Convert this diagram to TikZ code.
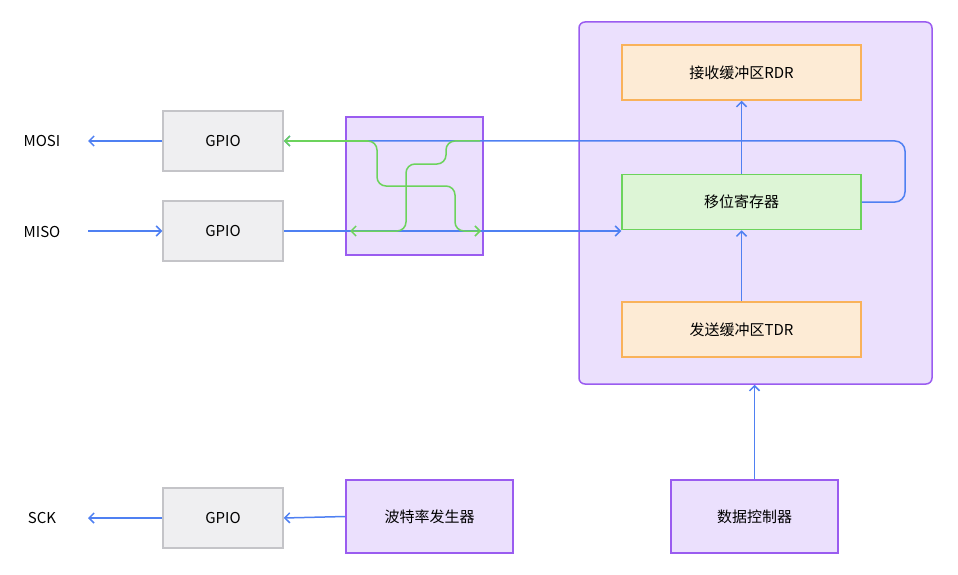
\documentclass[tikz,border=0pt]{standalone}
\usepackage{fontspec}
\setmainfont{Noto Sans CJK SC}
\usetikzlibrary{arrows.meta}
\definecolor{blu}{HTML}{4F80F2}
\definecolor{pur}{HTML}{9A5CF0}
\definecolor{purf}{HTML}{EBE0FD}
\definecolor{orb}{HTML}{F9B25A}
\definecolor{orf}{HTML}{FDEBD5}
\definecolor{grb}{HTML}{6CD35C}
\definecolor{grf}{HTML}{DDF5D6}
\definecolor{gyb}{HTML}{C4C4C8}
\definecolor{gyf}{HTML}{EFEFF1}
\begin{document}
\begin{tikzpicture}[x=1pt,y=-1pt,
  box/.style={draw,line width=1.5pt,minimum width=#1,minimum height=55pt,inner sep=0,font=\fontsize{15}{15}\selectfont},
  gp/.style={box=120pt,draw=gyb,fill=gyf,minimum height=60pt},
  ob/.style={box=239pt,draw=orb,fill=orf},
  arr/.style={draw=blu,line width=1.5pt,-{Straight Barb[length=5pt,width=10pt]}},
  garr/.style={draw=grb,line width=1.5pt,rounded corners=9pt},
  lbl/.style={font=\fontsize{15}{15}\selectfont}]
\useasboundingbox (0,0) rectangle (958,575);
\node[draw=pur,fill=purf,line width=1.5pt,rounded corners=6pt,minimum width=353pt,minimum height=362pt,inner sep=0] (panel) at (755.5,203) {};
\node[ob] (rdr) at (741.5,72.5) {接收缓冲区RDR};
\node[box=239pt,draw=grb,fill=grf] (sr) at (741.5,202) {移位寄存器};
\node[ob] (tdr) at (741.5,329.5) {发送缓冲区TDR};
\node[gp] (g1) at (223,141) {GPIO};
\node[gp] (g2) at (223,231) {GPIO};
\node[gp] (g3) at (223,518) {GPIO};
\node[draw=pur,fill=purf,line width=1.5pt,minimum width=137pt,minimum height=138pt,inner sep=0] (mux) at (414.5,186) {};
\node[box=167pt,draw=pur,fill=purf,minimum height=73pt] (baud) at (429.5,516.5) {波特率发生器};
\node[box=167pt,draw=pur,fill=purf,minimum height=73pt] (dc) at (754.5,516.5) {数据控制器};
\node[lbl] (mosi) at (42,141) {MOSI};
\node[lbl] (miso) at (42,232) {MISO};
\node[lbl] (sck) at (42,518) {SCK};
\coordinate (mosiE) at (88,141);
\coordinate (misoE) at (88,231);
\coordinate (sckE) at (88,518);
\draw[arr] (g1.west) -- (mosiE);
\draw[arr] (misoE) -- (g2.west);
\draw[arr] (g3.west) -- (sckE);
\draw[arr] (baud.west) -- (g3.east);
\draw[arr] (dc.north) -- (panel.south -| dc.north);
\draw[arr] (tdr.north) -- (sr.south);
\draw[arr] (sr.north) -- (rdr.south);
\draw[arr,rounded corners=10pt] (sr.east) -- (905,202) -- (905,141) -- (g1.east);
\draw[arr] (g2.east) -- (sr.west |- g2.east);
% green crossing
\draw[garr,-{Straight Barb[length=5pt,width=10pt]}] (367,141) -- (377,141) -- (377,186) -- (455,186) -- (455,231) -- (481,231);
\draw[garr,-{Straight Barb[length=5pt,width=10pt]}] (480,141) -- (446,141) -- (446,164) -- (406,164) -- (406,231) -- (350,231);
\draw[draw=grb,line width=1.5pt,-{Straight Barb[length=5pt,width=10pt]}] (368,141) -- (g1.east);
\end{tikzpicture}
\end{document}
